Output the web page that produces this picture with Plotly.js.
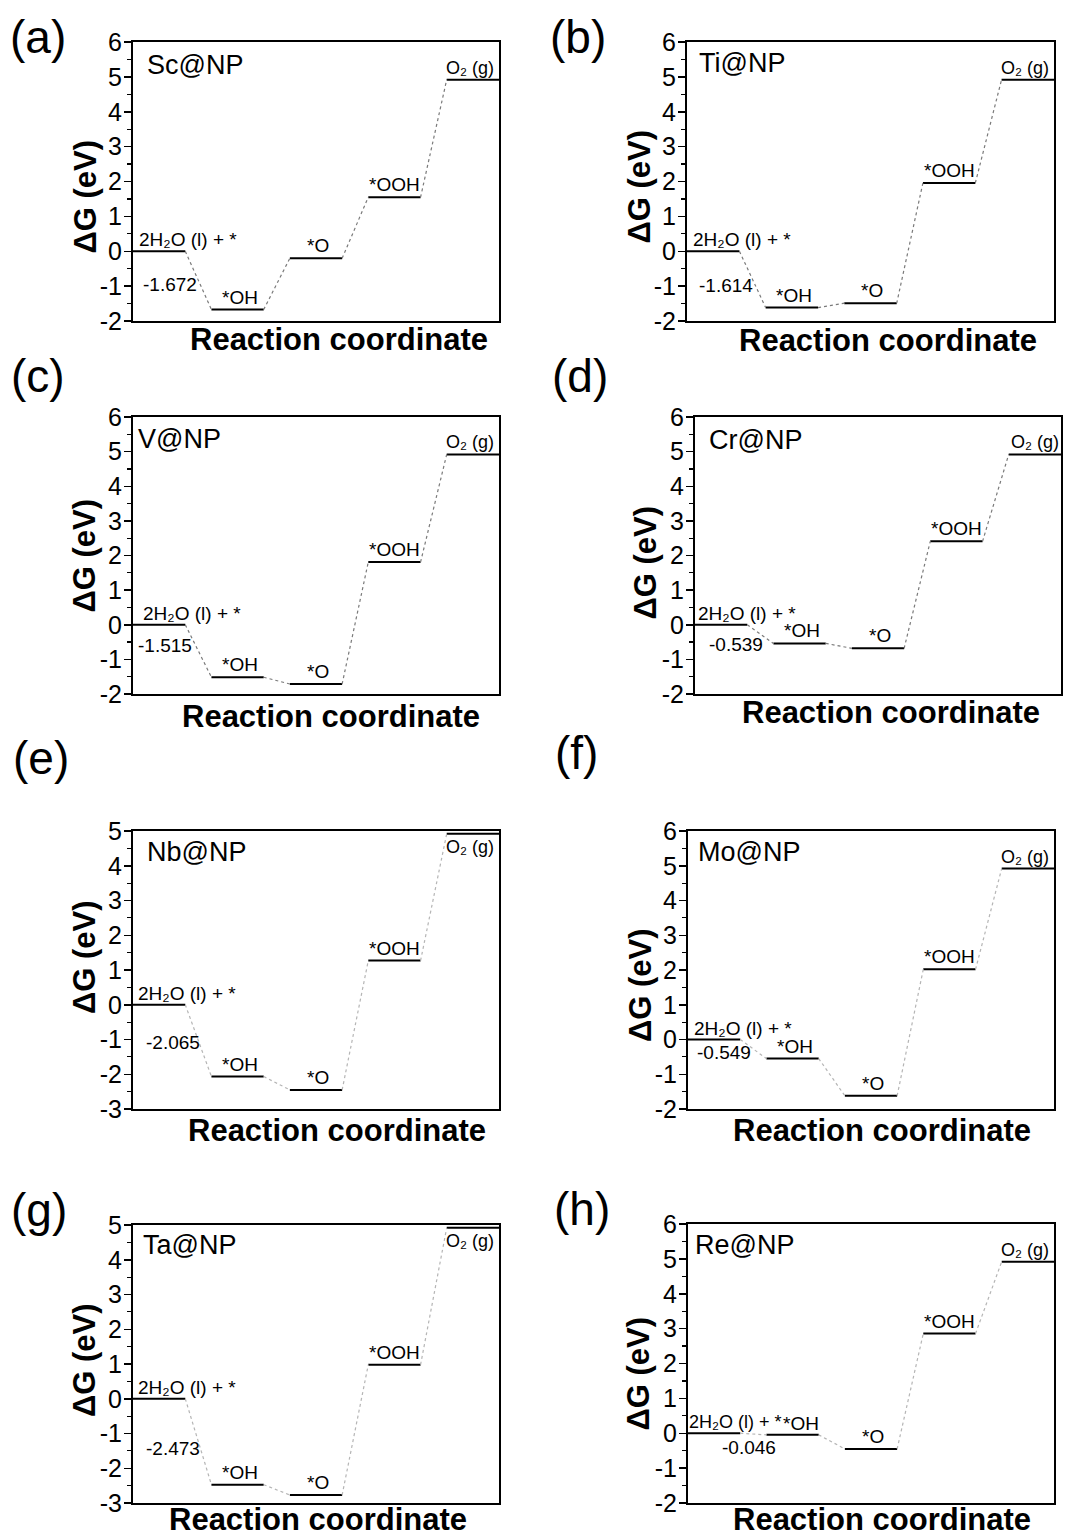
<!DOCTYPE html>
<html>
<head>
<meta charset="utf-8">
<script src="https://cdn.plot.ly/plotly-3.0.1.min.js"></script>
<style>
  html, body { margin: 0; padding: 0; background: #ffffff; }
  #chart { width: 1079px; height: 1539px; }
</style>
</head>
<body>
<div id="chart"></div>
<script>
// ---------------- DATA ----------------
const panelLetters = ['(a)', '(b)', '(c)', '(d)', '(e)', '(f)', '(g)', '(h)'];
const catalysts = ['Sc@NP', 'Ti@NP', 'V@NP', 'Cr@NP', 'Nb@NP', 'Mo@NP', 'Ta@NP', 'Re@NP'];
const states = ['2H\u2082O (l) + *', '*OH', '*O', '*OOH', 'O\u2082 (g)'];
const xTitle = 'Reaction coordinate';
const yTitle = '\u0394G (eV)';

// Free energy of each state (eV): 2H2O(l)+*, *OH, *O, *OOH, O2(g)
const dG_Sc = [0, -1.672, -0.20, 1.55, 4.92];
const dG_Ti = [0, -1.614, -1.49, 1.96, 4.92];
const dG_V  = [0, -1.515, -1.71, 1.81, 4.92];
const dG_Cr = [0, -0.539, -0.68, 2.41, 4.92];
const dG_Nb = [0, -2.065, -2.45, 1.27, 4.92];
const dG_Mo = [0, -0.549, -1.62, 2.02, 4.92];
const dG_Ta = [0, -2.473, -2.77, 0.98, 4.92];
const dG_Re = [0, -0.046, -0.45, 2.86, 4.92];

// value printed next to the first step
const firstStepLabels = ['-1.672', '-1.614', '-1.515', '-0.539', '-2.065', '-0.549', '-2.473', '-0.046'];

// y-axis ranges and tick labels
const yRange_a = [-2, 6];
const yRange_e = [-3, 5];
const yTicks_a = [-2, -1, 0, 1, 2, 3, 4, 5, 6];
const yTicks_e = [-3, -2, -1, 0, 1, 2, 3, 4, 5];

const allDG = [dG_Sc, dG_Ti, dG_V, dG_Cr, dG_Nb, dG_Mo, dG_Ta, dG_Re];
const allRanges = [yRange_a, yRange_a, yRange_a, yRange_a, yRange_e, yRange_a, yRange_e, yRange_a];
const allTicks = [yTicks_a, yTicks_a, yTicks_a, yTicks_a, yTicks_e, yTicks_a, yTicks_e, yTicks_a];

// ---------------- LAYOUT CONFIG (pixels / positions) ----------------
const W = 1079, H = 1539;
// plot boxes [left, right, top, bottom] in pixels
const boxes = [
  [133, 499, 42, 321], [687, 1054, 42, 321],
  [133, 499, 417, 694], [695, 1061, 417, 694],
  [133, 499, 831, 1109], [688, 1054, 831, 1109],
  [133, 499, 1225, 1503], [688, 1054, 1224, 1503]
];
const letterPos = [[8, 37], [548, 37], [9, 376], [550, 376], [11, 758], [553, 753], [9, 1210], [552, 1209]];
const namePos = [[0.033, 0.918], [0.027, 0.925], [0.009, 0.922], [0.032, 0.916],
                 [0.034, 0.925], [0.022, 0.925], [0.023, 0.928], [0.015, 0.925]];
// x-title: [shift of centre from plot centre, distance of centre below plot bottom]
const xTitlePos = [[23, 18], [17, 20], [15, 22], [13, 19], [21, 21], [11, 21], [2, 16], [11, 16]];
// y-title: [distance of centre left of plot, shift of centre below plot centre]
const yTitlePos = [[48, 15], [48, 5], [49, 0], [50, 7], [49, -13], [48, 15], [49, -4], [50, 10]];
const startLabelX = [0.2, 0.19, 0.33, 0.07, 0.16, 0.18, 0.14, 0.0];
const startLabelSize = [19, 19, 19, 19, 19, 19, 19, 18];
const diffLabelPos = [[0.3, -0.94], [0.38, -0.98], [0.13, -0.59], [0.45, -0.56],
                      [0.42, -1.09], [0.28, -0.38], [0.41, -1.42], [1.24, -0.41]];
const o2Below = [false, false, false, false, true, false, true, false];
const connColor = ['#7a7a7a', '#7a7a7a', '#7a7a7a', '#7a7a7a', '#b5b5b5', '#b5b5b5', '#b5b5b5', '#b5b5b5'];

const FONT = 'Arial, "Liberation Sans", sans-serif';

const traces = [];
const annotations = [];
const layout = {
  width: W, height: H,
  margin: {l: 0, r: 0, t: 0, b: 0},
  paper_bgcolor: '#ffffff', plot_bgcolor: '#ffffff',
  showlegend: false,
  font: {family: FONT, color: '#000000'},
  annotations: annotations
};

allDG.forEach((dg, i) => {
  const n = i === 0 ? '' : String(i + 1);
  const xr = 'x' + n, yr = 'y' + n;
  const b = boxes[i];

  // horizontal state levels
  const sx = [], sy = [];
  dg.forEach((v, j) => { sx.push(3 * j, 3 * j + 2, null); sy.push(v, v, null); });
  traces.push({x: sx, y: sy, xaxis: xr, yaxis: yr, mode: 'lines', type: 'scatter',
               line: {color: '#000000', width: 2}, hoverinfo: 'skip'});

  // dotted connectors
  const cx = [], cy = [];
  for (let j = 0; j < dg.length - 1; j++) { cx.push(3 * j + 2, 3 * j + 3, null); cy.push(dg[j], dg[j + 1], null); }
  traces.push({x: cx, y: cy, xaxis: xr, yaxis: yr, mode: 'lines', type: 'scatter',
               line: {color: connColor[i], width: 1.2, dash: 'dot'}, hoverinfo: 'skip'});

  layout['xaxis' + n] = {
    domain: [b[0] / W, b[1] / W], anchor: yr, range: [0, 14],
    showticklabels: false, ticks: '', showgrid: false, zeroline: false,
    showline: true, linecolor: '#000000', linewidth: 2, mirror: true
  };
  layout['yaxis' + n] = {
    domain: [1 - b[3] / H, 1 - b[2] / H], anchor: xr, range: allRanges[i],
    tickmode: 'array', tickvals: allTicks[i], ticktext: allTicks[i].map(String),
    ticks: 'outside', ticklen: 7, tickwidth: 1.5, tickcolor: '#000000',
    ticklabelstandoff: -3,
    minor: {dtick: 0.5, tick0: 0, ticks: 'outside', ticklen: 4, tickwidth: 1.2, tickcolor: '#000000', showgrid: false},
    tickfont: {family: FONT, size: 25, color: '#000000'},
    showgrid: false, zeroline: false,
    showline: true, linecolor: '#000000', linewidth: 2, mirror: true
  };

  // axis titles
  annotations.push({xref: 'paper', yref: 'paper',
                    x: ((b[0] + b[1]) / 2 + xTitlePos[i][0]) / W, y: 1 - (b[3] + xTitlePos[i][1]) / H,
                    xanchor: 'center', yanchor: 'middle', text: xTitle, showarrow: false,
                    font: {family: FONT, size: 31, weight: 'bold', color: '#000000'}});
  annotations.push({xref: 'paper', yref: 'paper', textangle: -90,
                    x: (b[0] - yTitlePos[i][0]) / W, y: 1 - ((b[2] + b[3]) / 2 + yTitlePos[i][1]) / H,
                    xanchor: 'center', yanchor: 'middle', text: yTitle, showarrow: false,
                    font: {family: FONT, size: 31, weight: 'bold', color: '#000000'}});

  // panel letter
  annotations.push({xref: 'paper', yref: 'paper', x: letterPos[i][0] / W, y: 1 - letterPos[i][1] / H,
                    xanchor: 'left', yanchor: 'middle', text: panelLetters[i], showarrow: false,
                    font: {family: FONT, size: 46, color: '#000000'}});
  // catalyst name
  annotations.push({xref: xr + ' domain', yref: yr + ' domain', x: namePos[i][0], y: namePos[i][1],
                    xanchor: 'left', yanchor: 'middle', text: catalysts[i], showarrow: false,
                    font: {family: FONT, size: 27, color: '#000000'}});
  // state labels
  annotations.push({xref: xr, yref: yr, x: startLabelX[i], y: dg[0], xanchor: 'left', yanchor: 'bottom',
                    yshift: 0, borderpad: 0, text: states[0], showarrow: false,
                    font: {family: FONT, size: startLabelSize[i]}});
  if (i === 7) {
    annotations.push({xref: xr, yref: yr, x: 5.04, y: dg[1], xanchor: 'right', yanchor: 'bottom',
                      yshift: 0, borderpad: 0, text: states[1], showarrow: false, font: {family: FONT, size: 19}});
  } else {
    annotations.push({xref: xr, yref: yr, x: 4.08, y: dg[1], xanchor: 'center', yanchor: 'bottom',
                      yshift: 0, text: states[1], showarrow: false, font: {family: FONT, size: 19}});
  }
  annotations.push({xref: xr, yref: yr, x: 7.06, y: dg[2], xanchor: 'center', yanchor: 'bottom',
                    yshift: 0, text: states[2], showarrow: false, font: {family: FONT, size: 19}});
  annotations.push({xref: xr, yref: yr, x: 10.0, y: dg[3], xanchor: 'center', yanchor: 'bottom',
                    yshift: 0, text: states[3], showarrow: false, font: {family: FONT, size: 19}});
  annotations.push({xref: xr, yref: yr, x: i === 3 ? 14.0 : 13.9, y: dg[4], xanchor: 'right',
                    yanchor: o2Below[i] ? 'top' : 'bottom', yshift: o2Below[i] ? -1 : 0,
                    text: states[4], showarrow: false, font: {family: FONT, size: 18}});
  // first-step value
  annotations.push({xref: xr, yref: yr, x: diffLabelPos[i][0], y: diffLabelPos[i][1], xanchor: 'left',
                    yanchor: 'middle', text: firstStepLabels[i], showarrow: false, font: {family: FONT, size: 19}});
});

Plotly.newPlot('chart', traces, layout, {staticPlot: true, displayModeBar: false});
</script>
</body>
</html>
